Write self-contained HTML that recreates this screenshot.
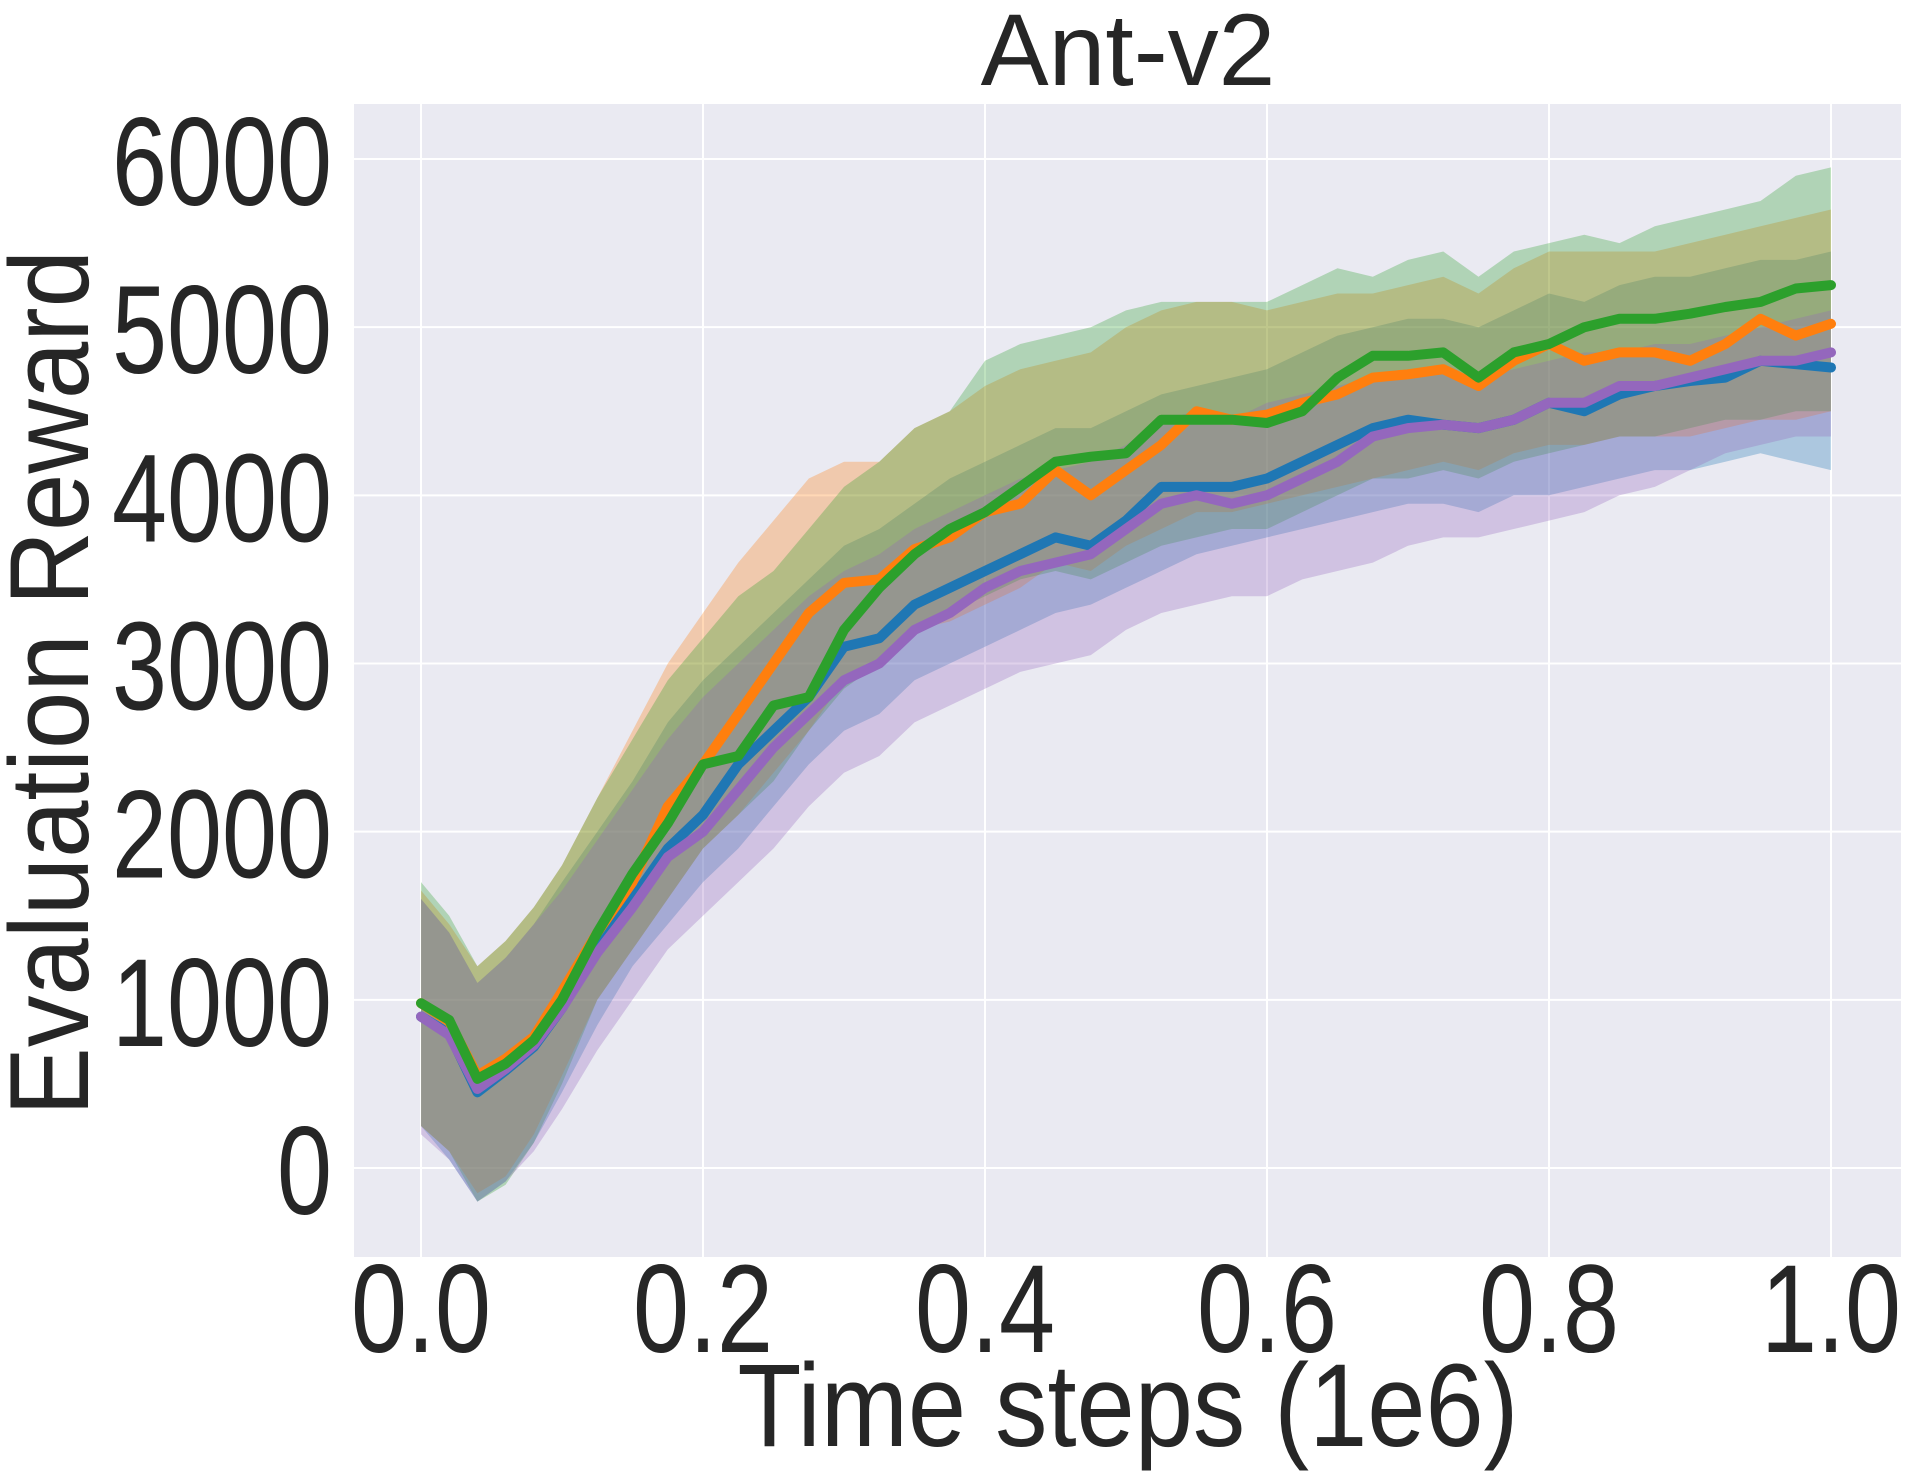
<!DOCTYPE html>
<html><head><meta charset="utf-8">
<style>html,body{margin:0;padding:0;background:#fff}svg{display:block}text{font-family:"Liberation Sans",Arial,sans-serif;fill:#262626}</style>
</head><body>
<svg id="chart" width="1913" height="1477" viewBox="0 0 1913 1477" xmlns="http://www.w3.org/2000/svg">
<rect x="354" y="104" width="1547" height="1153" fill="#eaeaf2"/>
<g id="grid"></g>
<g id="fills"></g>
<g id="lines"></g>
<g id="ticks"></g>
<text x="1128" y="85" font-size="102" text-anchor="middle">Ant-v2</text>
<text x="1128" y="1446" font-size="118" text-anchor="middle" textLength="781" lengthAdjust="spacingAndGlyphs">Time steps (1e6)</text>
<text transform="translate(88,683) rotate(-90)" font-size="112" text-anchor="middle" textLength="866" lengthAdjust="spacingAndGlyphs">Evaluation Reward</text>
</svg>
<script>
const xs=[0,0.02,0.04,0.06,0.08,0.1,0.125,0.15,0.175,0.2,0.225,0.25,0.275,0.3,0.325,0.35,0.375,0.4,0.425,0.45,0.475,0.5,0.525,0.55,0.575,0.6,0.625,0.65,0.675,0.7,0.725,0.75,0.775,0.8,0.825,0.85,0.875,0.9,0.925,0.95,0.975,1.0];
const greenMean=[980,880,530,620,760,1000,1400,1750,2050,2400,2450,2750,2800,3200,3450,3650,3800,3900,4050,4200,4230,4250,4450,4450,4450,4430,4500,4700,4830,4830,4850,4700,4850,4900,5000,5050,5050,5080,5120,5150,5230,5250];
const greenUpper=[1700,1500,1200,1350,1550,1800,2200,2550,2900,3150,3400,3550,3800,4050,4200,4400,4500,4800,4900,4950,5000,5100,5150,5150,5150,5150,5250,5350,5300,5400,5450,5300,5450,5500,5550,5500,5600,5650,5700,5750,5900,5950];
const greenLower=[250,100,-200,-100,150,500,1000,1300,1600,1900,2100,2300,2600,2850,3000,3200,3300,3400,3500,3550,3500,3600,3700,3750,3800,3800,3900,4000,4100,4100,4150,4100,4200,4250,4300,4350,4350,4400,4450,4450,4500,4500];
const orangeMean=[980,870,550,650,780,1050,1400,1700,2150,2400,2700,3000,3300,3480,3500,3680,3750,3900,3950,4150,4000,4150,4300,4500,4450,4480,4550,4600,4700,4720,4750,4650,4800,4900,4800,4850,4850,4800,4900,5050,4950,5020];
const orangeUpper=[1650,1450,1200,1350,1550,1800,2200,2600,3000,3300,3600,3850,4100,4200,4200,4400,4500,4650,4750,4800,4850,5000,5100,5150,5150,5100,5150,5200,5200,5250,5300,5200,5350,5450,5450,5450,5450,5500,5550,5600,5650,5700];
const orangeLower=[250,100,-150,-50,200,550,1000,1300,1600,1900,2100,2350,2600,2900,3000,3200,3250,3350,3450,3600,3550,3700,3800,3900,3900,3950,4000,4050,4100,4150,4200,4150,4250,4300,4300,4350,4350,4350,4400,4450,4450,4500];
const blueMean=[900,800,450,580,720,950,1300,1600,1900,2100,2400,2600,2800,3100,3150,3350,3450,3550,3650,3750,3700,3850,4050,4050,4050,4100,4200,4300,4400,4450,4420,4400,4450,4550,4500,4600,4650,4680,4700,4800,4780,4760];
const blueUpper=[1600,1400,1100,1250,1450,1700,2000,2300,2650,2900,3100,3300,3500,3700,3800,3950,4100,4200,4300,4400,4400,4500,4600,4650,4700,4750,4850,4950,5000,5050,5050,5000,5100,5200,5150,5250,5300,5300,5350,5400,5400,5450];
const blueLower=[250,50,-200,-80,150,450,850,1200,1450,1700,1900,2150,2400,2600,2700,2900,3000,3100,3200,3300,3350,3450,3550,3650,3700,3750,3800,3850,3900,3950,3950,3900,4000,4000,4050,4100,4150,4150,4200,4250,4200,4150];
const purpleMean=[900,790,470,590,730,950,1280,1550,1850,2000,2250,2500,2700,2900,3000,3200,3300,3450,3550,3600,3650,3800,3950,4000,3950,4000,4100,4200,4350,4400,4420,4400,4450,4550,4550,4650,4650,4700,4750,4800,4800,4850];
const purpleUpper=[1600,1400,1100,1250,1450,1650,1950,2250,2550,2800,3000,3200,3400,3550,3650,3800,3900,4000,4100,4150,4200,4300,4450,4500,4450,4550,4600,4650,4700,4750,4750,4700,4750,4800,4850,4850,4900,4900,4950,5000,5050,5100];
const purpleLower=[200,50,-200,-80,100,350,700,1000,1300,1500,1700,1900,2150,2350,2450,2650,2750,2850,2950,3000,3050,3200,3300,3350,3400,3400,3500,3550,3600,3700,3750,3750,3800,3850,3900,4000,4050,4150,4250,4300,4350,4350];
const xTicks=[0,0.2,0.4,0.6,0.8,1.0];
const xTickLabels=["0.0","0.2","0.4","0.6","0.8","1.0"];
const yTicks=[0,1000,2000,3000,4000,5000,6000];
const yTickLabels=["0","1000","2000","3000","4000","5000","6000"];

const X=v=>421+v*(1831-421);
const Y=v=>1168-v*(1168-159)/6000;
const NS="http://www.w3.org/2000/svg";
const mk=(t,a,p)=>{const e=document.createElementNS(NS,t);for(const k in a)e.setAttribute(k,a[k]);p.appendChild(e);return e;};
const grid=document.getElementById('grid'),fills=document.getElementById('fills'),lines=document.getElementById('lines'),ticks=document.getElementById('ticks');
xTicks.forEach((t,i)=>{
  const l=mk('line',{x1:X(t),x2:X(t),y1:104,y2:1257,stroke:'#fff','stroke-width':2},grid);
  
  
  const tx=mk('text',{x:X(t),y:1352,'font-size':125,'text-anchor':'middle',textLength:140,lengthAdjust:'spacingAndGlyphs'},ticks);
  tx.textContent=xTickLabels[i];
  
  
});
yTicks.forEach((t,i)=>{
  const l=mk('line',{x1:354,x2:1901,y1:Y(t),y2:Y(t),stroke:'#fff','stroke-width':2},grid);
  
  
  const tx=mk('text',{x:332,y:Y(t)+46,'font-size':125,'text-anchor':'end',textLength:yTickLabels[i].length*55,lengthAdjust:'spacingAndGlyphs'},ticks);
  tx.textContent=yTickLabels[i];
  
  
});
const series=[
 {n:'blue',c:'#1f77b4',m:blueMean,u:blueUpper,l:blueLower},
 {n:'orange',c:'#ff7f0e',m:orangeMean,u:orangeUpper,l:orangeLower},
 {n:'green',c:'#2ca02c',m:greenMean,u:greenUpper,l:greenLower},
 {n:'purple',c:'#9467bd',m:purpleMean,u:purpleUpper,l:purpleLower}
];
series.forEach(s=>{
  let d='M'+xs.map((x,i)=>X(x).toFixed(1)+','+Y(s.u[i]).toFixed(1)).join('L');
  for(let i=xs.length-1;i>=0;i--)d+='L'+X(xs[i]).toFixed(1)+','+Y(s.l[i]).toFixed(1);
  const p=mk('path',{d:d+'Z',fill:s.c,'fill-opacity':0.3},fills);
  
  
});
['blue','orange','purple','green'].forEach(n=>{
  const s=series.find(q=>q.n===n);
  const d='M'+xs.map((x,i)=>X(x).toFixed(1)+','+Y(s.m[i]).toFixed(1)).join('L');
  const p=mk('path',{d:d,fill:'none',stroke:s.c,'stroke-width':10,'stroke-linejoin':'round','stroke-linecap':'round'},lines);
  
  
});
</script>
</body></html>
